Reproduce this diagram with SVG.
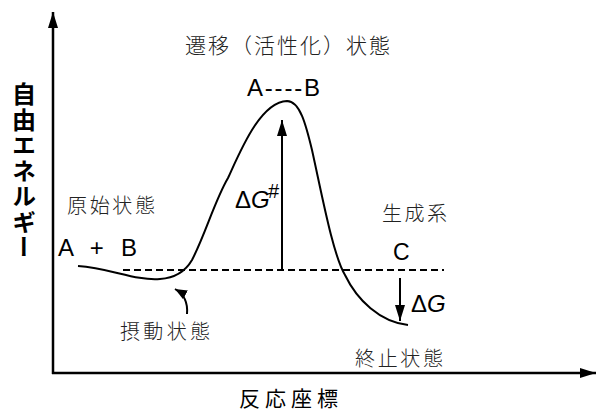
<svg xmlns="http://www.w3.org/2000/svg" width="598" height="412" viewBox="0 0 598 412">
<defs>
<marker id="ah" viewBox="0 0 12 10" refX="12" refY="5" markerWidth="12" markerHeight="10" markerUnits="userSpaceOnUse" orient="auto">
<path d="M0,0 L12,5 L0,10 Z" fill="#000"/>
</marker>
<marker id="ahL" viewBox="0 0 16 10" refX="16" refY="5" markerWidth="16" markerHeight="10" markerUnits="userSpaceOnUse" orient="auto">
<path d="M0,0 L16,5 L0,10 Z" fill="#000"/>
</marker>
</defs>
<style>
.jp{font-family:"Noto Sans CJK JP","Noto Sans CJK SC",sans-serif;font-weight:300;fill:#222;}
.lat{font-family:"Liberation Sans",Arial,sans-serif;fill:#000;}
.ax{font-family:"Noto Sans CJK JP","Noto Sans CJK SC",sans-serif;font-weight:400;fill:#000;}
.axb{font-family:"Noto Sans CJK JP","Noto Sans CJK SC",sans-serif;font-weight:700;fill:#000;}
.ln{stroke:#000;fill:none;}
</style>
<rect width="598" height="412" fill="#fff"/>
<g id="connectors">
<line class="ln" x1="53" y1="374" x2="53" y2="12" stroke-width="2.5" marker-end="url(#ahL)"/>
<line class="ln" x1="52" y1="373" x2="596" y2="373" stroke-width="2.5" marker-end="url(#ahL)"/>
<path id="curve" class="ln" stroke-width="2" d="M78,266 C110,268 135,281 160,279 C175,278 185,272 192,260 C205,235 215,200 228,178 C240,152 260,102 287,101 C300,101 306,125 312,150 C322,195 333,255 345,275 C357,300 380,322 408,325"/>
<line class="ln" x1="123" y1="270" x2="444" y2="270" stroke-width="2" stroke-dasharray="7,4"/>
<line class="ln" x1="282" y1="269" x2="282" y2="120" stroke-width="2" marker-end="url(#ahL)"/>
<line class="ln" x1="400" y1="278" x2="400" y2="321" stroke-width="2" marker-end="url(#ahL)"/>
<path class="ln" stroke-width="2" d="M187,314 C188,302 184,294 175,289" marker-end="url(#ah)"/>
</g>
<g id="yaxis-label"><text class="axb" x="24" y="82" font-size="24" writing-mode="vertical-rl" style="letter-spacing:1.5px">自由エネルギー</text></g>
<g id="xaxis-label"><text class="ax" x="239" y="406" font-size="21" textLength="99" lengthAdjust="spacing">反応座標</text></g>
<g id="transition"><text class="jp" x="185" y="53" font-size="21" textLength="205" lengthAdjust="spacing">遷移（活性化）状態</text></g>
<g id="AB-ts"><text class="lat" x="247" y="96" font-size="24" textLength="73" lengthAdjust="spacing">A----B</text></g>
<g id="initial"><text class="jp" x="67" y="213" font-size="20" textLength="88" lengthAdjust="spacing">原始状態</text></g>
<g id="AplusB"><text class="lat" x="58" y="256" font-size="24" textLength="79" lengthAdjust="spacing">A + B</text></g>
<g id="dGts"><text class="lat" x="235" y="208" font-size="24">Δ<tspan font-style="italic">G</tspan><tspan font-style="italic" font-size="20" dx="-2" dy="-10">#</tspan></text></g>
<g id="product"><text class="jp" x="382" y="221" font-size="20" textLength="65" lengthAdjust="spacing">生成系</text></g>
<g id="C"><text class="lat" x="393" y="260" font-size="23">C</text></g>
<g id="dG"><text class="lat" x="411" y="312" font-size="24">Δ<tspan font-style="italic">G</tspan></text></g>
<g id="perturbed"><text class="jp" x="120" y="339" font-size="20" textLength="90" lengthAdjust="spacing">摂動状態</text></g>
<g id="final"><text class="jp" x="355" y="366" font-size="20" textLength="88" lengthAdjust="spacing">終止状態</text></g>
</svg>
